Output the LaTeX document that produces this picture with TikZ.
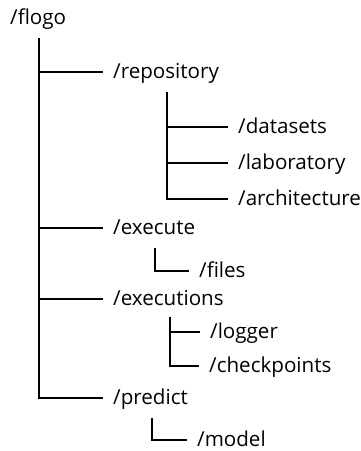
\documentclass[tikz,border=0pt]{standalone}
\usepackage{fontspec}
\setmainfont{Open Sans}
\begin{document}
\begin{tikzpicture}[x=1pt,y=-1pt,
  dir/.style={anchor=west,inner sep=0pt,text height=14pt,text depth=2pt,font=\fontsize{20.6}{22}\selectfont},
  tree/.style={line width=2.6pt,line join=miter,shorten >=10pt}]
\useasboundingbox (0,0) rectangle (361,451);
% nodes
\node[dir] (flogo) at (10,18) {/flogo};
\node[dir] (repository) at (113,72) {/repository};
\node[dir] (datasets) at (238,127) {/datasets};
\node[dir] (laboratory) at (238,163) {/laboratory};
\node[dir] (architecture) at (238,199) {/architecture};
\node[dir] (execute) at (113,228) {/execute};
\node[dir] (files) at (199,271) {/files};
\node[dir] (executions) at (113,299) {/executions};
\node[dir] (logger) at (210,332) {/logger};
\node[dir] (checkpoints) at (209,366) {/checkpoints};
\node[dir] (predict) at (113,398) {/predict};
\node[dir] (model) at (197,440) {/model};
% trunk tops
\coordinate (t0) at (39,38);
\coordinate (t1) at (167,92);
\coordinate (t2) at (155,248);
\coordinate (t3) at (170,317);
\coordinate (t4) at (152,418);
% connectors
\foreach \c in {repository,execute,executions,predict} \draw[tree] (t0) |- (\c.west);
\foreach \c in {datasets,laboratory,architecture} \draw[tree] (t1) |- (\c.west);
\draw[tree] (t2) |- (files.west);
\foreach \c in {logger,checkpoints} \draw[tree] (t3) |- (\c.west);
\draw[tree] (t4) |- (model.west);
\end{tikzpicture}
\end{document}
